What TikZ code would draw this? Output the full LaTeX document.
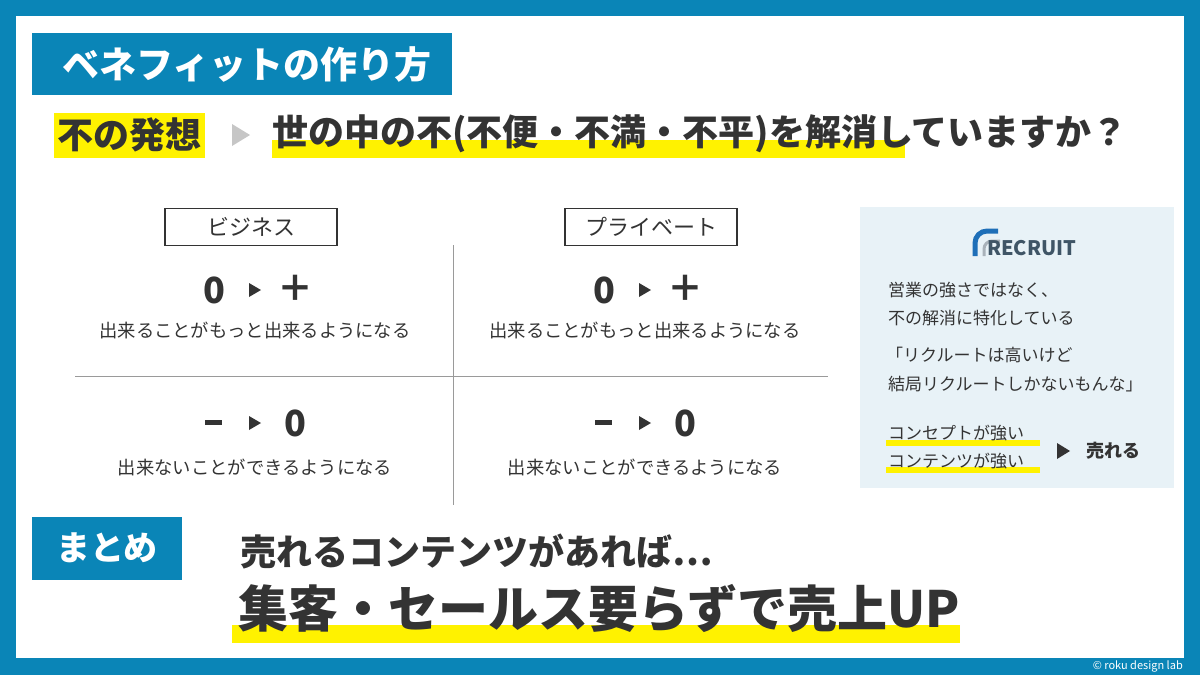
\documentclass[tikz,border=0pt]{standalone}
\usepackage{fontspec}
\setmainfont{Noto Sans CJK JP}
\usetikzlibrary{calc}
\definecolor{frame}{HTML}{0A85B7}
\definecolor{txt}{HTML}{333333}
\definecolor{hl}{HTML}{FFF200}
\definecolor{panel}{HTML}{E8F2F7}
\definecolor{ln}{HTML}{9A9A9A}
\definecolor{recblue}{HTML}{1E6FB8}
\definecolor{recgray}{HTML}{3F5566}
\tikzset{
 tx/.style={text=txt,inner sep=0pt},
 fs/.style={font=\fontsize{#1}{#1}\selectfont},
 lab/.style={draw=txt,line width=1.2pt,minimum width=172pt,minimum height=37pt,inner sep=0pt,text=txt,font=\fontsize{22}{22}\selectfont},
}
\begin{document}
\begin{tikzpicture}[x=1pt,y=-1pt]
\useasboundingbox (0,0) rectangle (1200,675);
\fill[frame] (0,0) rectangle (1200,675);
\fill[white] (16,16) rectangle (1184,658);
\node[anchor=east,text=white,inner sep=0pt,fs=11] (copy) at (1183,666) {© roku design lab};
% title
\fill[frame] (32,33) rectangle (452,95);
\node[text=white,inner sep=0pt,fs=37] (title) at (247,64) {\bfseries ベネフィットの作り方};
% line 2
\fill[hl] (54,113) rectangle (205,158);
\node[tx,fs=36] (fu) at (129.5,135) {\bfseries 不の発想};
\fill[gray!45] (232,124) -- (250,135) -- (232,146) -- cycle;
\fill[hl] (272,140) rectangle (905,158);
\node[tx,anchor=west,fs=36] (q) at (272,134) {\bfseries 世の中の不(不便・不満・不平)を解消していますか？};
% grid
\draw[ln,line width=1pt] (453,245) -- (453,505);
\draw[ln,line width=1pt] (75,376) -- (828,376);
\node[lab] (b) at (251,227) {ビジネス};
\node[lab] (p) at (651,227) {プライベート};
\foreach \cx/\n in {255/l,645/r}{
 \node[tx,fs=36] (a\n) at (\cx-41,290) {\bfseries 0};
 \node[tx,fs=36] (b\n) at (\cx+40,288) {\bfseries ＋};
 \fill[txt] (\cx-6,283) -- (\cx+6,290) -- (\cx-6,297) -- cycle;
 \node[tx,fs=18.3] (s\n) at (\cx,330) {出来ることがもっと出来るようになる};
 \fill[txt] (\cx-50,420) rectangle (\cx-33,424.5);
 \node[tx,fs=36] (d\n) at (\cx+40,423) {\bfseries 0};
 \fill[txt] (\cx-6,416) -- (\cx+6,423) -- (\cx-6,430) -- cycle;
 \node[tx,fs=18.3] (t\n) at (\cx,467) {出来ないことができるようになる};
}
% panel
\fill[panel] (860,207) rectangle (1174,488);
\draw[recgray!45,line width=3pt] (984,256) -- (984,249) arc[start angle=180,end angle=270,radius=8] -- (1000,241);
\draw[recblue,line width=5pt] (975,256) -- (975,243) arc[start angle=180,end angle=270,radius=12] -- (998,231);
\node[anchor=west,inner sep=0pt,text=recgray,fs=20] (rec) at (987,248) {\bfseries RECRUIT};
\node[tx,anchor=west,fs=17] (p1) at (888,290) {営業の強さではなく、};
\node[tx,anchor=west,fs=17] (p2) at (888,318) {不の解消に特化している};
\node[tx,anchor=west,fs=17] (p3) at (886,355) {「リクルートは高いけど};
\node[tx,anchor=west,fs=17] (p4) at (888,384) {結局リクルートしかないもんな」};
\fill[hl] (886,440) rectangle (1040,446);
\fill[hl] (886,467) rectangle (1040,473);
\node[tx,anchor=west,fs=17] (p5) at (888,433) {コンセプトが強い};
\node[tx,anchor=west,fs=17] (p6) at (888,461) {コンテンツが強い};
\fill[txt] (1057,443) -- (1070,451) -- (1057,459) -- cycle;
\node[tx,fs=18] (sell) at (1113,451) {\bfseries 売れる};
% summary
\fill[frame] (32,517) rectangle (182,580);
\node[text=white,inner sep=0pt,fs=34] (mt) at (107,548) {\bfseries まとめ};
\node[tx,anchor=west,fs=36] (s1) at (240,552) {\bfseries 売れるコンテンツがあれば…};
\fill[hl] (232,625) rectangle (960,643);
\node[tx,anchor=west,fs=50] (s2) at (238,608) {\bfseries 集客・セールス要らずで売上UP};
\end{tikzpicture}
\end{document}
